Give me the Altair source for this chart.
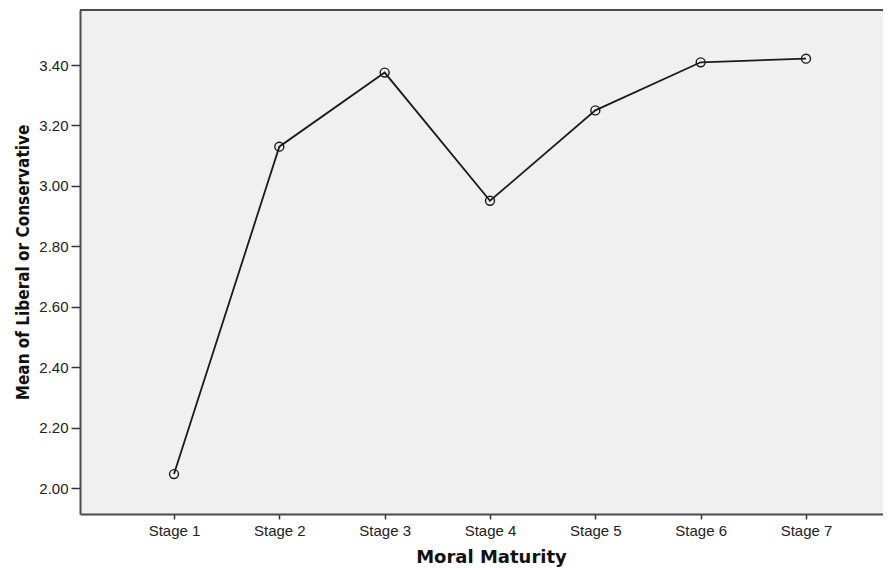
import altair as alt
import pandas as pd

# Data
stages = ["Stage 1", "Stage 2", "Stage 3", "Stage 4", "Stage 5", "Stage 6", "Stage 7"]
means = [2.047, 3.130, 3.375, 2.951, 3.250, 3.409, 3.421]
y_ticks = [2.00, 2.20, 2.40, 2.60, 2.80, 3.00, 3.20, 3.40]

df = pd.DataFrame({
    "stage": stages,
    "idx": list(range(1, len(stages) + 1)),
    "mean": means,
})

W, H = 803, 504
label_expr = "[" + ",".join("'%s'" % s for s in stages) + "][datum.value - 1]"

x_enc = alt.X(
    "idx:Q",
    scale=alt.Scale(domain=[0.1076, 7.731], nice=False, zero=False),
    axis=alt.Axis(
        values=list(range(1, len(stages) + 1)),
        labelExpr=label_expr,
        title="Moral Maturity",
        grid=False,
        tickSize=5,
        labelPadding=4,
        labelFont="Liberation Sans",
        labelFontSize=15,
        labelColor="#222222",
        tickColor="#333333",
        tickWidth=1.5,
        domainColor="#4a4a4a",
        domainWidth=2,
        titleFont="DejaVu Sans",
        titleFontWeight="bold",
        titleFontSize=18,
        titleColor="#111111",
        titleBaseline="alphabetic",
        titleX=411,
        titleY=48,
    ),
)

y_enc = alt.Y(
    "mean:Q",
    scale=alt.Scale(domain=[1.915, 3.582], nice=False, zero=False),
    axis=alt.Axis(
        values=y_ticks,
        format=".2f",
        title="Mean of Liberal or Conservative",
        grid=False,
        tickSize=9,
        labelPadding=3,
        labelFont="Liberation Sans",
        labelFontSize=15,
        labelColor="#222222",
        tickColor="#333333",
        tickWidth=1.5,
        domainColor="#4a4a4a",
        domainWidth=2,
        titleFont="DejaVu Sans Condensed, Liberation Sans, sans-serif",
        titleFontWeight="bold",
        titleFontSize=17,
        titleColor="#111111",
        titleBaseline="alphabetic",
        titleX=-52,
        titleY=H / 2,
    ),
)

base = alt.Chart(df)

line = base.mark_line(color="#1a1a1a", strokeWidth=1.8).encode(x=x_enc, y=y_enc)
points = base.mark_point(
    shape="circle", filled=False, color="#1a1a1a", size=80, strokeWidth=1.4, opacity=1
).encode(x=x_enc, y=y_enc)

top_border = alt.Chart(pd.DataFrame({"a": [0]})).mark_rule(
    color="#4a4a4a", strokeWidth=2
).encode(x=alt.value(0), x2=alt.value(W), y=alt.value(0))

chart = (
    alt.layer(line, points, top_border)
    .properties(
        width=W,
        height=H,
        autosize=alt.AutoSizeParams(type="none"),
        padding={"left": 72, "top": 2, "right": 0, "bottom": 53},
        view=alt.ViewBackground(fill="#f0f0f0", stroke=None),
    )
    .configure(background="white")
)

chart.save("out.html", embed_options={"renderer": "svg", "actions": False})
